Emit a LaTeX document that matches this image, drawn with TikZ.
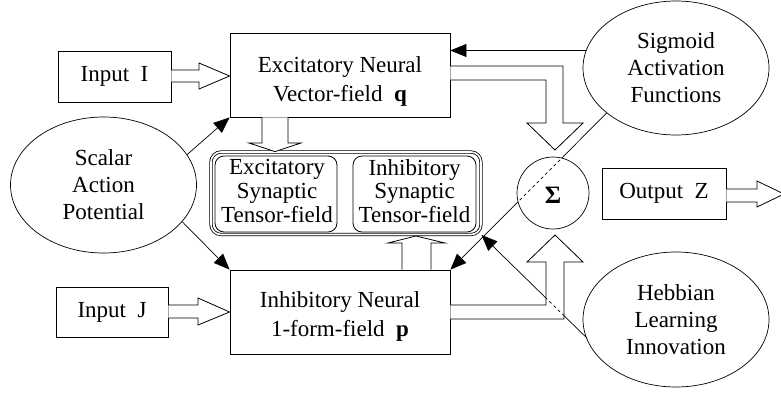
\documentclass[tikz,border=0pt]{standalone}
\usepackage{fontspec}
\setmainfont{Liberation Serif}
\usetikzlibrary{shapes.geometric,arrows.meta}
\begin{document}
\begin{tikzpicture}[x=1pt,y=-1pt,
  every node/.style={font=\fontsize{23}{27}\selectfont, inner sep=0pt},
  boxnode/.style={draw, line width=0.8pt, align=center},
  ellnode/.style={ellipse, draw, line width=0.7pt, align=center, minimum width=186pt},
  bigtxt/.style={align=center, font=\fontsize{23}{29.5}\selectfont},
  tenstxt/.style={align=center, font=\fontsize{23}{23.8}\selectfont},
  tensbox/.style={draw, line width=0.8pt, rounded corners=9pt, minimum height=76pt},
  blk/.style={draw, line width=0.8pt, fill=white},
  arr/.style={draw, line width=0.7pt, -{Triangle[length=16pt,width=13pt]}},
  hid/.style={line width=0.7pt, dash pattern=on 3pt off 3pt}]
\fill[white] (0,0) rectangle (781,392);
\useasboundingbox (0,0) rectangle (781,392);

% main boxes
\node[boxnode, minimum width=220pt, minimum height=84pt] (exc) at (340,75) {};
\node[bigtxt] (exct) at (340,81.4) {Excitatory Neural\\Vector-field\ \ \textbf{q}};
\node[boxnode, minimum width=220pt, minimum height=84pt] (inh) at (340,312) {};
\node[bigtxt] (inht) at (340,316.5) {Inhibitory Neural\\1-form-field\ \ \textbf{p}};

% inputs / output
\node[boxnode, minimum width=113pt, minimum height=51pt] (inI) at (114.5,76.5) {Input\ \ I};
\node[boxnode, minimum width=112pt, minimum height=50pt] (inJ) at (112,312) {Input\ \ J};
\node[boxnode, minimum width=124pt, minimum height=51pt] (outZ) at (664,193.5) {Output\ \ Z};

% ellipses
\node[ellnode, minimum height=136pt] (scal) at (103.5,185) {Scalar\\Action\\Potential};
\node[ellnode, minimum height=134pt] (sig) at (676,68) {Sigmoid\\Activation\\Functions};
\node[ellnode, minimum height=135pt] (heb) at (676,319.5) {Hebbian\\Learning\\Innovation};

% tensor fields
\node[draw, double, double distance=1.6pt, line width=0.8pt, rounded corners=10pt,
      minimum width=270pt, minimum height=82.5pt] (tens) at (346,193.25) {};
\node[tensbox, minimum width=122pt] (tE) at (276,194) {};
\node[tenstxt] (tEt) at (277,191) {Excitatory\\Synaptic\\Tensor-field};
\node[tensbox, minimum width=123pt] (tI) at (414.5,194) {};
\node[tenstxt] (tIt) at (414.5,191) {Inhibitory\\Synaptic\\Tensor-field};

% thin connectors
\draw[arr] (scal.20) -- (exc.south west);
\draw[arr] (scal.-25) -- (inh.north west);
\draw[arr] (sig.169) -- (sig.169 -| exc.east);
\draw[arr] (heb.191) -- (tens.south east);
\draw[arr] (sig.213) -- (inh.north east);

% block arrows
\draw[blk] (inI.east |- 0,70) -- (199,70) -- (199,63) -- (exc.west |- 0,76) -- (199,89) -- (199,82) -- (inI.east |- 0,82);
\draw[blk] (inJ.east |- 0,305) -- (198,305) -- (198,298) -- (inh.west) -- (198,325) -- (198,318) -- (inJ.east |- 0,318);
\draw[blk] (outZ.east |- 0,189) -- (757,189) -- (757,181) -- (784,194) -- (757,207) -- (757,202) -- (outZ.east |- 0,202);
\draw[blk] (262,0 |- exc.south) -- (262,143) -- (249,143) -- (275,0 |- tens.north) -- (301,143) -- (288,143) -- (288,0 |- exc.south);
\draw[blk] (402,0 |- inh.north) -- (402,243) -- (388,243) -- (416,236) -- (445,243) -- (431,243) -- (431,0 |- inh.north);
\draw[blk] (exc.east |- 0,66) -- (563,66) -- (563,123) -- (583,123) -- (555,150) -- (527,123) -- (546,123) -- (546,80) -- (exc.east |- 0,80);
\draw[blk] (inh.east |- 0,305) -- (546,305) -- (546,262) -- (527,262) -- (555,235) -- (583,262) -- (564,262) -- (564,319) -- (inh.east |- 0,319);
\begin{scope}
  \clip (450,305) -- (546,305) -- (546,262) -- (527,262) -- (555,235) -- (583,262) -- (564,262) -- (564,319) -- (450,319) -- cycle;
  \draw[hid] (heb.191) -- (tens.south east);
\end{scope}

% summation
\node[circle, draw, line width=0.7pt, fill=white, minimum size=72pt,
      text height=21pt, text depth=0pt, font=\fontsize{25}{25}\selectfont\bfseries] (sigma) at (553,193) {Σ};
\begin{scope}
  \clip (sigma.center) circle[radius=35.5pt];
  \draw[hid] (sig.213) -- (inh.north east);
\end{scope}
\end{tikzpicture}
\end{document}
